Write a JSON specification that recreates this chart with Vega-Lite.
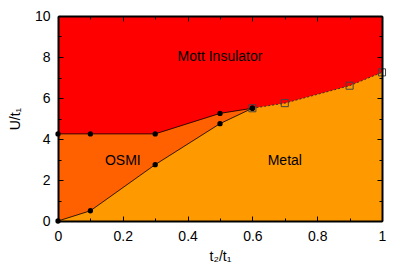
{
  "$schema": "https://vega.github.io/schema/vega-lite/v6.json",
  "width": 324,
  "height": 205,
  "autosize": {"type": "none"},
  "padding": {"left": 58, "top": 16, "right": 33, "bottom": 59},
  "background": "#ffffff",
  "view": {"fill": "#ff0000", "stroke": "#000000", "strokeWidth": 1},
  "config": {
    "axis": {
      "domain": true,
      "ticks": true,
      "domainColor": "#000000",
      "domainWidth": 2,
      "domainOpacity": 1,
      "tickColor": "#000000",
      "tickWidth": 1,
      "tickOpacity": 1,
      "labelFont": "Liberation Sans",
      "labelFontSize": 14,
      "labelColor": "#000000",
      "titleFont": "Liberation Sans",
      "titleFontSize": 14,
      "titleFontWeight": "normal",
      "titleColor": "#000000",
      "grid": false,
      "labelFlush": false,
      "labelOverlap": false
    }
  },
  "datasets": {
    "boundary": [
      {"x": 0, "mott": 4.25, "metal": 0},
      {"x": 0.1, "mott": 4.25, "metal": 0.5},
      {"x": 0.3, "mott": 4.25, "metal": 2.75},
      {"x": 0.5, "mott": 5.25, "metal": 4.75},
      {"x": 0.6, "mott": 5.5, "metal": 5.5},
      {"x": 0.7, "mott": 5.75, "metal": 5.75},
      {"x": 0.9, "mott": 6.6, "metal": 6.6},
      {"x": 1, "mott": 7.25, "metal": 7.25}
    ],
    "labels": [
      {"x": 0.5, "y": 8, "text": "Mott Insulator"},
      {"x": 0.2, "y": 2.95, "text": "OSMI"},
      {"x": 0.7, "y": 2.95, "text": "Metal"}
    ]
  },
  "layer": [
    {
      "data": {"name": "boundary"},
      "mark": {"type": "area", "color": "#ff6000", "interpolate": "linear"},
      "encoding": {
        "x": {
          "field": "x", "type": "quantitative",
          "scale": {"domain": [0, 1], "nice": false, "zero": false},
          "axis": {
            "orient": "bottom",
            "zindex": 2,
            "domain": true,
            "title": "t₂/t₁",
            "values": [0, 0.1, 0.2, 0.3, 0.4, 0.5, 0.6, 0.7, 0.8, 0.9, 1],
            "labelExpr": "round(datum.value*10) % 2 == 1 ? '' : format(datum.value, '~g')",
            "tickSize": {"condition": {"test": "round(datum.value*10) % 2 == 1", "value": -3}, "value": -5},
            "labelPadding": 13,
            "titlePadding": 4
          }
        },
        "y": {
          "field": "mott", "type": "quantitative",
          "scale": {"domain": [0, 10], "nice": false},
          "axis": {
            "orient": "left",
            "zindex": 2,
            "domain": true,
            "title": "U/t₁",
            "values": [0, 1, 2, 3, 4, 5, 6, 7, 8, 9, 10],
            "labelExpr": "datum.value % 2 == 1 ? '' : format(datum.value, 'd')",
            "tickSize": {"condition": {"test": "datum.value % 2 == 1", "value": -3}, "value": -5},
            "labelPadding": 13,
            "titlePadding": 12
          }
        }
      }
    },
    {
      "data": {"name": "boundary"},
      "mark": {"type": "area", "color": "#ff9900", "interpolate": "linear"},
      "encoding": {
        "x": {
          "field": "x", "type": "quantitative",
          "axis": {
            "orient": "top", "title": null, "labels": false, "zindex": 2, "domain": true,
            "values": [0, 0.1, 0.2, 0.3, 0.4, 0.5, 0.6, 0.7, 0.8, 0.9, 1],
            "tickSize": {"condition": {"test": "round(datum.value*10) % 2 == 1", "value": -3}, "value": -5}
          }
        },
        "y": {
          "field": "metal", "type": "quantitative",
          "axis": {
            "orient": "right", "title": null, "labels": false, "zindex": 2, "domain": true,
            "values": [0, 1, 2, 3, 4, 5, 6, 7, 8, 9, 10],
            "tickSize": {"condition": {"test": "datum.value % 2 == 1", "value": -3}, "value": -5}
          }
        }
      }
    },
    {
      "data": {"name": "boundary"},
      "transform": [{"filter": "datum.x <= 0.6"}],
      "mark": {"type": "line", "color": "#000000", "strokeWidth": 0.8},
      "encoding": {
        "x": {"field": "x", "type": "quantitative", "axis": null},
        "y": {"field": "mott", "type": "quantitative", "axis": null}
      }
    },
    {
      "data": {"name": "boundary"},
      "transform": [{"filter": "datum.x <= 0.6"}],
      "mark": {"type": "line", "color": "#000000", "strokeWidth": 0.8},
      "encoding": {
        "x": {"field": "x", "type": "quantitative", "axis": null},
        "y": {"field": "metal", "type": "quantitative", "axis": null}
      }
    },
    {
      "data": {"name": "boundary"},
      "transform": [{"filter": "datum.x >= 0.6"}],
      "mark": {"type": "line", "color": "#333333", "strokeWidth": 1, "strokeDash": [2, 2]},
      "encoding": {
        "x": {"field": "x", "type": "quantitative", "axis": null},
        "y": {"field": "mott", "type": "quantitative", "axis": null}
      }
    },
    {
      "data": {"name": "boundary"},
      "transform": [{"filter": "datum.x >= 0.6"}],
      "mark": {"type": "point", "shape": "square", "size": 50, "filled": false, "color": "#444444", "strokeWidth": 1, "opacity": 1},
      "encoding": {
        "x": {"field": "x", "type": "quantitative", "axis": null},
        "y": {"field": "mott", "type": "quantitative", "axis": null}
      }
    },
    {
      "data": {"name": "boundary"},
      "transform": [{"filter": "datum.x <= 0.6"}],
      "mark": {"type": "point", "shape": "circle", "size": 28, "filled": true, "color": "#000000", "opacity": 1},
      "encoding": {
        "x": {"field": "x", "type": "quantitative", "axis": null},
        "y": {"field": "mott", "type": "quantitative", "axis": null}
      }
    },
    {
      "data": {"name": "boundary"},
      "transform": [{"filter": "datum.x <= 0.6"}],
      "mark": {"type": "point", "shape": "circle", "size": 28, "filled": true, "color": "#000000", "opacity": 1},
      "encoding": {
        "x": {"field": "x", "type": "quantitative", "axis": null},
        "y": {"field": "metal", "type": "quantitative", "axis": null}
      }
    },
    {
      "data": {"name": "labels"},
      "mark": {"type": "text", "font": "Liberation Sans", "fontSize": 14, "color": "#000000", "align": "center", "baseline": "middle"},
      "encoding": {
        "x": {"field": "x", "type": "quantitative", "axis": null},
        "y": {"field": "y", "type": "quantitative", "axis": null},
        "text": {"field": "text", "type": "nominal"}
      }
    }
  ],
  "resolve": {"axis": {"x": "independent", "y": "independent"}}
}
